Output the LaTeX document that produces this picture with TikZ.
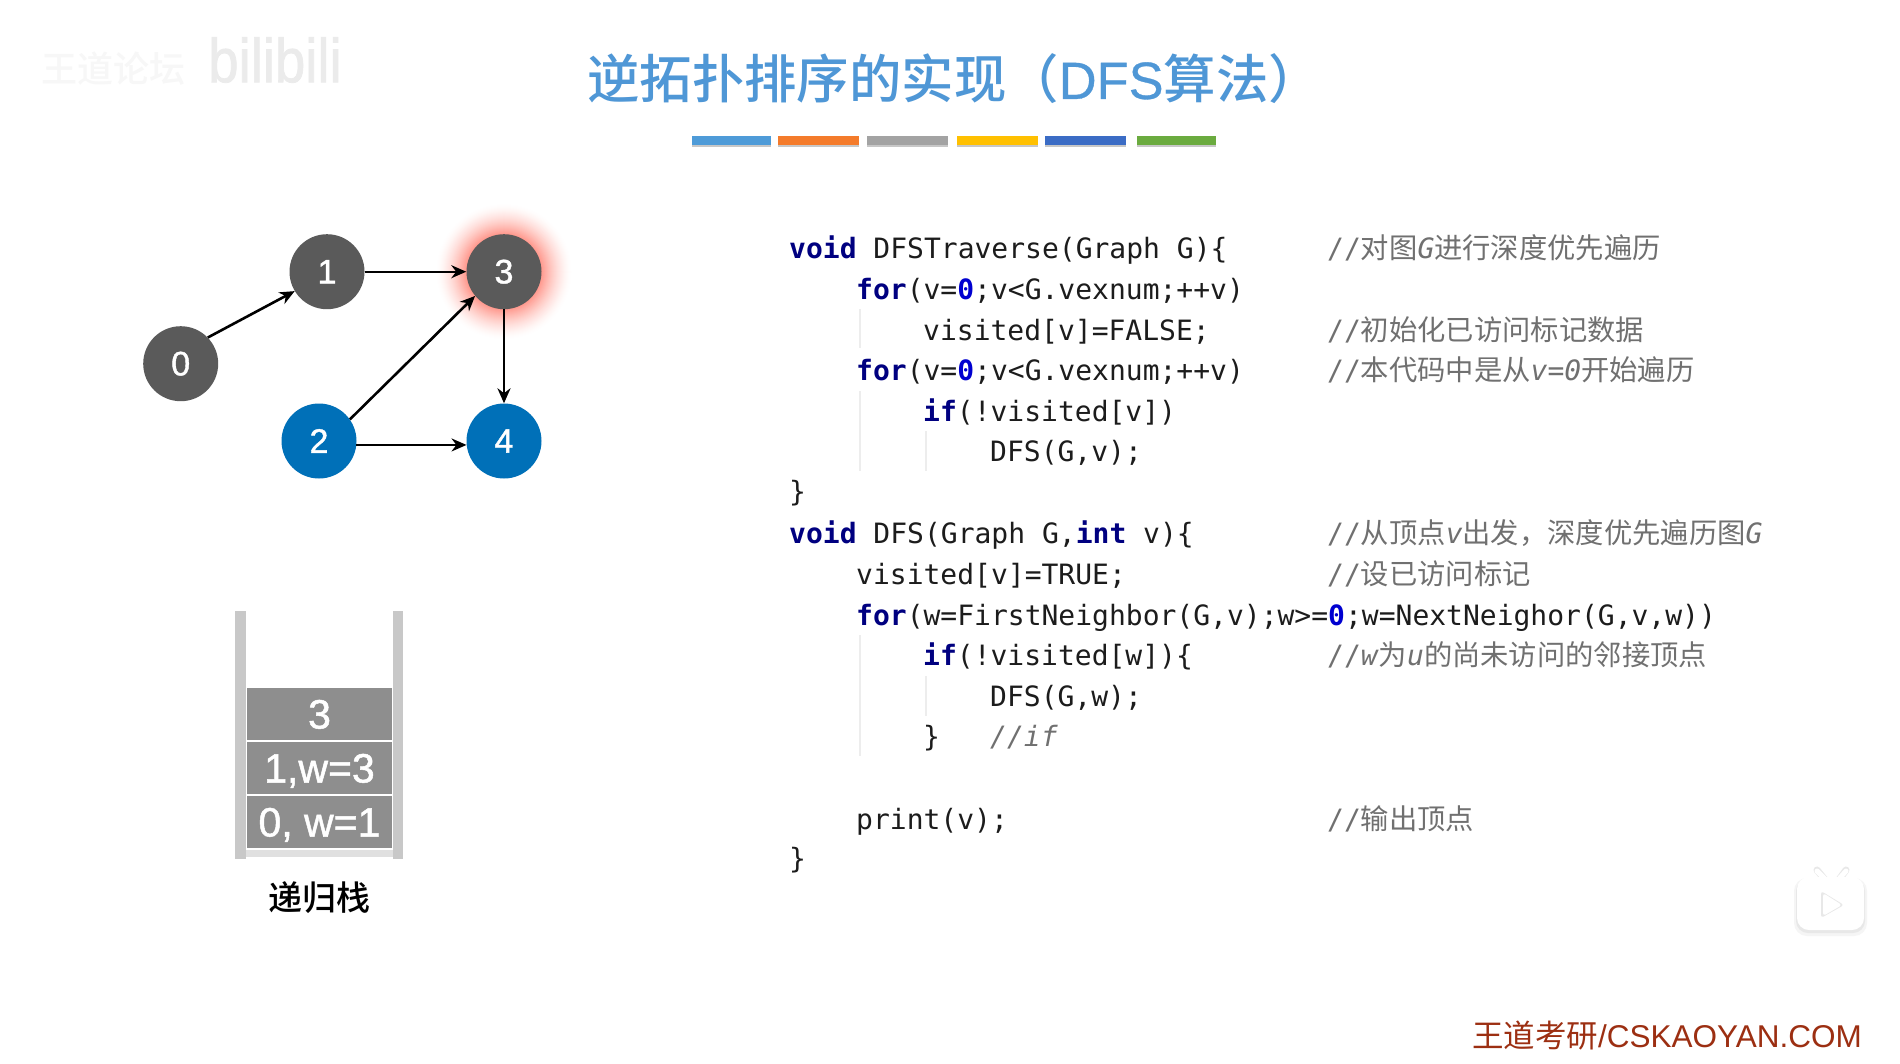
\documentclass[tikz,border=0pt]{standalone}
\usepackage{fontspec}
\setmainfont{Liberation Sans}
\setmonofont{DejaVu Sans Mono}
\newfontfamily\cjk{Noto Sans CJK SC}
\newfontfamily\cjkb{Noto Sans CJK SC Medium}
\newfontfamily\numf[FakeBold=1.2]{Liberation Sans}
\newfontfamily\titlef[FakeBold=0.6]{Liberation Sans}
\usetikzlibrary{arrows.meta}
\definecolor{titleblue}{HTML}{4F97D6}
\definecolor{dgray}{HTML}{5A5A5A}
\definecolor{nblue}{HTML}{0070B8}
\definecolor{kw}{HTML}{000080}
\definecolor{num}{HTML}{0000D0}
\definecolor{cmt}{HTML}{707070}
\definecolor{code}{HTML}{1C1C1C}
\definecolor{wall}{HTML}{C8C8C8}
\definecolor{cell}{HTML}{8E8E8E}
\definecolor{footred}{HTML}{9C2F12}
\definecolor{glowa}{HTML}{FF9488}
\tikzset{
 gnode/.style={circle,minimum size=75pt,inner sep=0pt,fill=dgray,text=white,font=\fontsize{34}{34}\numf},
 bnode/.style={gnode,fill=nblue},
 edge/.style={-{Stealth[length=15pt,width=13pt]},line width=2.6pt,black},
 thinedge/.style={edge,line width=1.9pt},
 codeline/.style={anchor=base west,inner sep=0pt,yshift=-1pt,text=code,font=\fontsize{28}{28}\ttfamily},
 cmtline/.style={anchor=base west,inner sep=0pt,yshift=-1pt,text=cmt,font=\fontsize{28}{28}\ttfamily},
 guide/.style={draw=black!7,line width=1.2pt},
 cellbox/.style={fill=cell,text=white,minimum width=145pt,minimum height=52pt,inner sep=0pt,text height=29pt,text depth=0pt,font=\fontsize{41}{41}\numf},
 bar/.style={minimum width=80pt,minimum height=9pt,inner sep=0pt},
}
\newcommand{\kwd}[1]{\textcolor{kw}{\bfseries #1}}
\newcommand{\nm}[1]{\textcolor{num}{\bfseries #1}}
\newcommand{\cn}[1]{{\fontsize{28.3}{28.3}\cjk #1}}
\begin{document}
\begin{tikzpicture}[x=1pt,y=-1pt]
\useasboundingbox (0,0) rectangle (1900,1063);
\fill[white] (0,0) rectangle (1900,1063);
% watermark
\node[text=black!3,font=\fontsize{36}{36}\selectfont\cjkb,inner sep=0pt] (wm1) at (113,69) {王道论坛};
\node[text=black!8,font=\fontsize{62}{62}\selectfont\numf,inner sep=0pt,xscale=0.88] (wm2) at (275,60) {bilibili};
% title
\node[anchor=west,text=titleblue,font=\fontsize{52.4}{52.4}\selectfont\cjkb,inner sep=0pt] (title) at (587,79) {逆拓扑排序的实现（{\titlef DFS}算法）};
% colour bars
\foreach \nme/\xx/\ww/\cc in {a/731/79/4E9BD8,b/818/81/F47B2B,c/907/81/A3A3A3,d/997/81/FFC000,e/1085/81/3B6CC5,f/1176/79/6BAB3F}{
 \definecolor{bc}{HTML}{\cc}
 \node[bar,fill=black!22,minimum width=\ww pt,yshift=-2.5pt] (s\nme) at (\xx,140) {};
 \node[bar,fill=bc,minimum width=\ww pt] (b\nme) at (\xx,140) {};
}
% glow: concentric discs fading outward
\foreach \rr in {68,67,...,37}{
 \pgfmathsetmacro{\tt}{100*((68-\rr)/31)^1.5}
 \fill[glowa!\tt!white] (504,271.7) circle (\rr pt);
}
% graph
\node[gnode] (n0) at (180.7,363.7) {0};
\node[gnode] (n1) at (327,271.7) {1};
\node[gnode] (n3) at (504,271.7) {3};
\node[bnode] (n2) at (319,441) {2};
\node[bnode] (n4) at (504,441) {4};
\draw[edge] (n0.44) -- (n1.211);
\draw[thinedge] (n1) -- (n3);
\draw[edge] (n2.35) -- (n3.220);
\draw[edge] (n3) -- (n4);
\draw[thinedge] (n2.-6) -- (n4.186);
% stack
\fill[wall] (234.7,610.7) rectangle (245.7,858.7);
\fill[wall] (392.7,610.7) rectangle (403.3,858.7);
\fill[black!12] (245.7,850) rectangle (392.7,857);
\node[cellbox] (c3) at (319.5,714) {3};
\node[cellbox] (c2) at (319.5,768) {1,w=3};
\node[cellbox] (c1) at (319.5,822) {0, w=1};
\node[font=\fontsize{34}{34}\selectfont\cjkb,inner sep=0pt] (lab) at (319,898) {递归栈};
% code
\def\cx{789}
\def\ccx{1327}
\draw[guide] (860,309) -- (860,348);
\draw[guide] (860,391) -- (860,471);
\draw[guide] (926,431) -- (926,471);
\draw[guide] (860,635) -- (860,756);
\draw[guide] (926,676) -- (926,716);
\node[codeline] (l1) at (\cx,257) {\kwd{void} DFSTraverse(Graph G)\{};
\node[codeline] (l2) at (856,298) {\kwd{for}(v=\nm{0};v<G.vexnum;++v)};
\node[codeline] (l3) at (923,339) {visited[v]=FALSE;};
\node[codeline] (l4) at (856,379) {\kwd{for}(v=\nm{0};v<G.vexnum;++v)};
\node[codeline] (l5) at (923,420) {\kwd{if}(!visited[v])};
\node[codeline] (l6) at (990,460) {DFS(G,v);};
\node[codeline] (l7) at (\cx,500) {\}};
\node[codeline] (l8) at (\cx,542) {\kwd{void} DFS(Graph G,\kwd{int} v)\{};
\node[codeline] (l9) at (856,583) {visited[v]=TRUE;};
\node[codeline] (l10) at (856,624) {\kwd{for}(w=FirstNeighbor(G,v);w>=\nm{0};w=NextNeighor(G,v,w))};
\node[codeline] (l11) at (923,664) {\kwd{if}(!visited[w])\{};
\node[codeline] (l12) at (990,705) {DFS(G,w);};
\node[codeline] (l13) at (923,745) {\}};
\node[cmtline] (l13c) at (990,745) {\itshape //if};
\node[codeline] (l14) at (856,828) {print(v);};
\node[codeline] (l15) at (\cx,867) {\}};
% comments
\node[cmtline] (c1a) at (\ccx,257) {//\cn{对图}\textit{G}\cn{进行深度优先遍历}};
\node[cmtline] (c2a) at (\ccx,339) {//\cn{初始化已访问标记数据}};
\node[cmtline] (c3a) at (\ccx,379) {//\cn{本代码中是从}\textit{v=0}\cn{开始遍历}};
\node[cmtline] (c4a) at (\ccx,542) {//\cn{从顶点}\textit{v}\cn{出发，深度优先遍历图}\textit{G}};
\node[cmtline] (c5a) at (\ccx,583) {//\cn{设已访问标记}};
\node[cmtline] (c6a) at (\ccx,664) {//\textit{w}\cn{为}\textit{u}\cn{的尚未访问的邻接顶点}};
\node[cmtline] (c7a) at (\ccx,828) {//\cn{输出顶点}};
% TV icon
\fill[black!4,rounded corners=13pt] (1794,878) rectangle (1867,936);
\fill[black!9,rounded corners=12pt] (1796,879) rectangle (1865,933);
\draw[black!9,line width=7pt,line cap=round] (1817,870) -- (1826,881);
\draw[black!9,line width=7pt,line cap=round] (1846,870) -- (1838,881);
\draw[white,line width=5pt,line cap=round] (1817,871) -- (1826,880);
\draw[white,line width=5pt,line cap=round] (1846,871) -- (1838,880);
\fill[white,rounded corners=12pt] (1797,877) rectangle (1864,930);
\fill[black!9,rounded corners=3pt] (1821,891) -- (1844,905) -- (1821,918) -- cycle;
\fill[white,rounded corners=3pt] (1823,893) -- (1842,905) -- (1823,916) -- cycle;
% footer
\node[anchor=base east,inner sep=0pt,text=footred,font=\fontsize{31.5}{31.5}\selectfont] (foot) at (1862,1047) {\cjk 王道考研\rmfamily/CSKAOYAN.COM};
\end{tikzpicture}
\end{document}
